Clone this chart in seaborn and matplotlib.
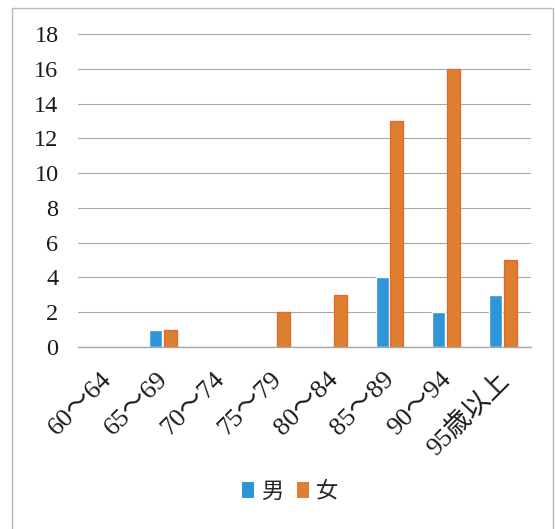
import matplotlib
matplotlib.use("Agg")
import matplotlib.pyplot as plt
import matplotlib.transforms as mtransforms
import seaborn as sns
import pandas as pd
from matplotlib.patches import Rectangle, Patch

age_groups = ["60～64", "65～69", "70～74", "75～79", "80～84", "85～89", "90～94", "95歳以上"]
male = [0, 1, 0, 0, 0, 4, 2, 3]
female = [0, 1, 0, 2, 3, 13, 16, 5]
y_ticks = [0, 2, 4, 6, 8, 10, 12, 14, 16, 18]

df = pd.DataFrame({
    "年齢": age_groups * 2,
    "性別": ["男"] * len(age_groups) + ["女"] * len(age_groups),
    "人数": male + female,
})

sns.set_theme(style="white")
plt.rcParams["font.family"] = ["Liberation Serif", "Noto Sans CJK JP"]

blue = "#2E95D6"
orange = "#DD7E30"

fig = plt.figure(figsize=(5.55, 5.29), dpi=100)
fig.patch.set_facecolor("white")
ax = fig.add_axes([78 / 555, 1 - 347 / 529, (531 - 78) / 555, (347 - 34) / 529])

sns.barplot(data=df, x="年齢", y="人数", hue="性別", order=age_groups,
            hue_order=["男", "女"], palette={"男": blue, "女": orange},
            width=0.52, gap=0.12, saturation=1, ax=ax, legend=False)

# female bars carry a slightly redder outline
for bar in ax.containers[1]:
    if bar.get_height() > 0:
        bar.set_edgecolor("#EC6528")
        bar.set_linewidth(0.9)

ax.set_ylim(0, 18)
ax.set_xlim(-0.5, len(age_groups) - 0.5)
ax.set_yticks(y_ticks)
ax.yaxis.grid(True, color="#A8A8A8", linewidth=0.8)
ax.set_axisbelow(True)
for s in ["top", "right", "left"]:
    ax.spines[s].set_visible(False)
ax.spines["bottom"].set_color("#A8A8A8")
ax.spines["bottom"].set_linewidth(1.0)
ax.tick_params(axis="y", length=0, labelsize=17.5, pad=14, colors="#1a1a1a")
ax.tick_params(axis="x", length=0, labelsize=19, pad=15, colors="#1a1a1a")
ax.set_xlabel("")
ax.set_ylabel("")
shift = mtransforms.ScaledTranslation(-6 / 100, 0, fig.dpi_scale_trans)
for lbl in ax.get_xticklabels():
    lbl.set_rotation(45)
    lbl.set_ha("right")
    lbl.set_rotation_mode("anchor")
    lbl.set_family(["Liberation Serif", "Noto Sans CJK JP"])
    lbl.set_transform(lbl.get_transform() + shift)

handles = [Patch(facecolor=blue, edgecolor="none"), Patch(facecolor=orange, edgecolor="none")]
fig.legend(handles, ["男", "女"], loc="center", bbox_to_anchor=(290 / 555, 1 - 491 / 529),
           ncol=2, frameon=False, handlelength=0.55, handleheight=0.7, handletextpad=0.3,
           columnspacing=0.6, prop={"family": "Noto Sans CJK JP", "size": 16})

# outer chart frame
fig.add_artist(Rectangle((12 / 555, -0.01), (553 - 12) / 555, 1 - 8 / 529 + 0.01,
                         transform=fig.transFigure, fill=False,
                         edgecolor="#B8B8B8", linewidth=1.0))

fig.savefig("out.png", dpi=100)
